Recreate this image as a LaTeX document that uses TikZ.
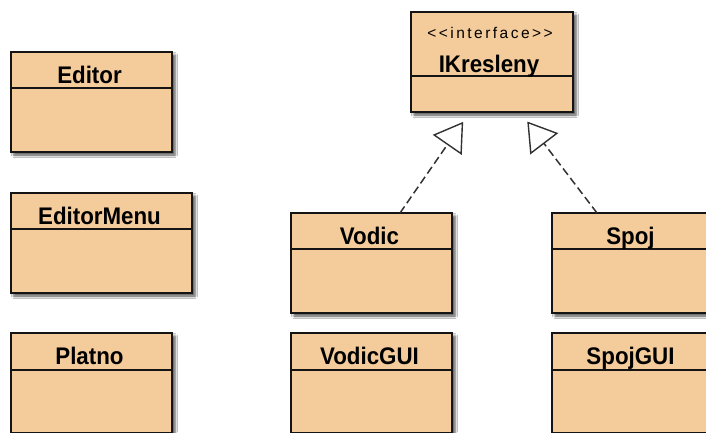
\documentclass[tikz,border=0pt]{standalone}
\usepackage{fontspec}
\setmainfont{Liberation Sans}
\newfontfamily\stereofont[LetterSpace=16]{Liberation Sans}
\newfontfamily\titlefont[FakeStretch=0.93]{Liberation Sans}
\usetikzlibrary{arrows.meta,calc,shadows.blur}
\definecolor{classfill}{RGB}{244,203,154}
\definecolor{edgecol}{RGB}{20,20,20}
\definecolor{linkcol}{RGB}{50,50,50}
\tikzset{
  classbox/.style={draw=edgecol, line width=1.5pt, fill=classfill, rectangle,
    inner sep=0pt, outer sep=0pt, anchor=north west,
    blur shadow={shadow xshift=3pt, shadow yshift=-3pt, shadow blur radius=2.5pt, shadow opacity=70}},
  divider/.style={draw=edgecol, line width=1.3pt},
  classname/.style={font=\titlefont\fontsize{24}{26}\selectfont\bfseries, anchor=base, inner sep=0pt},
  stereo/.style={font=\stereofont\fontsize{15.5}{17}\selectfont, anchor=base, inner sep=0pt},
  realizes/.style={draw=linkcol, line width=1.5pt, dash pattern=on 8pt off 4pt,
    -{Triangle[open, length=28pt, width=35pt, line width=1.4pt]}, shorten >=12pt},
}
\newcommand\umlclass[7]{%
  \node[classbox, minimum width=#4pt, minimum height=#5pt] (#1) at (#2,#3) {};
  \draw[divider] ($(#1.north west)+(0pt,-#6pt)$) -- ($(#1.north east)+(0pt,-#6pt)$);
  \node[classname] (#1name) at ($(#1.north)+(-2pt,-31pt)$) {#7};
}
\begin{document}
\begin{tikzpicture}[x=1pt,y=-1pt]
\useasboundingbox (0,0) rectangle (706,432);
\clip (0,0) rectangle (706,432);
\fill[white] (0,0) rectangle (706,432);

\umlclass{editor}{11}{52}{161}{100}{36}{Editor}
\umlclass{editormenu}{11}{193}{181}{100}{36}{EditorMenu}
\umlclass{platno}{11}{333}{161}{100}{37}{Platno}
\umlclass{vodic}{291}{213}{161}{100}{36}{Vodic}
\umlclass{spoj}{552}{213}{161}{100}{36}{Spoj}
\umlclass{vodicgui}{291}{333}{161}{100}{37}{VodicGUI}
\umlclass{spojgui}{552}{333}{161}{100}{37}{SpojGUI}

% interface
\node[classbox, minimum width=162pt, minimum height=100pt] (ikres) at (411,12) {};
\draw[divider] ($(ikres.north west)+(0pt,-64pt)$) -- ($(ikres.north east)+(0pt,-64pt)$);
\node[stereo] (ikresstereo) at ($(ikres.north)+(-2pt,-26pt)$) {<<interface>>};
\node[classname] (ikresname) at ($(ikres.north)+(-3pt,-60pt)$) {IKresleny};

% realizations
\draw[realizes] ($(vodic.north)+(28.5pt,0pt)$) -- ($(ikres.south)+(-22pt,0pt)$);
\draw[realizes] ($(spoj.north)+(-35.5pt,0pt)$) -- ($(ikres.south)+(28pt,0pt)$);
\end{tikzpicture}
\end{document}
